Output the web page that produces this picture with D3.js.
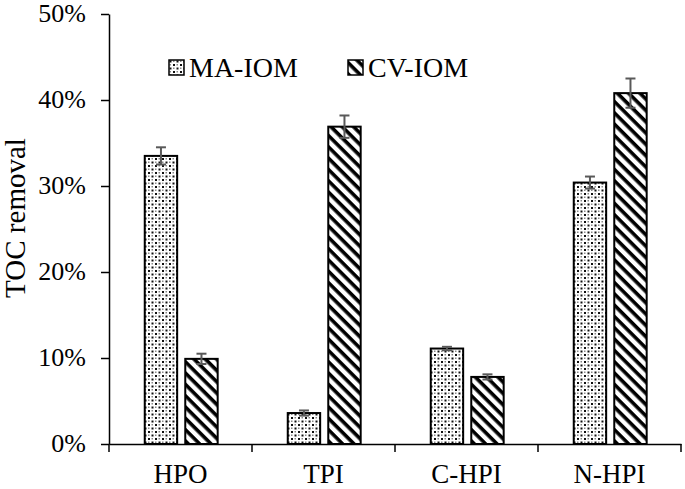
<!DOCTYPE html>
<html>
<head>
<meta charset="utf-8">
<script src="https://cdn.jsdelivr.net/npm/d3@7"></script>
<style>
  body { margin: 0; background: #fff; }
  text { font-family: "Liberation Serif", "Times New Roman", serif; fill: #000; }
</style>
</head>
<body>
<script>
// ---------------- DATA ----------------
var categories = ['HPO', 'TPI', 'C-HPI', 'N-HPI']
var series = ['MA-IOM', 'CV-IOM']
var maValues = [0.335, 0.036, 0.111, 0.304]
var cvValues = [0.099, 0.369, 0.078, 0.408]
var maErrors = [0.010, 0.003, 0.002, 0.007]
var cvErrors = [0.006, 0.013, 0.003, 0.017]
var yTicks = [0, 0.1, 0.2, 0.3, 0.4, 0.5]

var width = 685
var height = 489
var margin = {top: 14, right: 4, bottom: 45, left: 109}

var svg = d3.select('body')
  .append('svg')
  .attr('width', width)
  .attr('height', height)

// ---------------- PATTERNS ----------------
var defs = svg.append('defs')

var dots = defs.append('pattern')
  .attr('id', 'dots')
  .attr('patternUnits', 'userSpaceOnUse')
  .attr('width', 7)
  .attr('height', 7)
dots.append('rect').attr('width', 7).attr('height', 7).attr('fill', '#fff')
dots.append('rect').attr('x', 0.5).attr('y', 0.5).attr('width', 2).attr('height', 2).attr('fill', '#111')
dots.append('rect').attr('x', 4).attr('y', 4).attr('width', 2).attr('height', 2).attr('fill', '#111')
dots.append('rect').attr('x', 4).attr('y', 0.5).attr('width', 1.5).attr('height', 1.5).attr('fill', '#888')
dots.append('rect').attr('x', 0.5).attr('y', 4).attr('width', 1.5).attr('height', 1.5).attr('fill', '#888')

var stripes = defs.append('pattern')
  .attr('id', 'stripes')
  .attr('patternUnits', 'userSpaceOnUse')
  .attr('width', 8)
  .attr('height', 8)
  .attr('patternTransform', 'rotate(45)')
stripes.append('rect').attr('width', 8).attr('height', 8).attr('fill', '#fff')
stripes.append('rect').attr('width', 8).attr('height', 3.6).attr('fill', '#000')

var fills = {'MA-IOM': 'url(#dots)', 'CV-IOM': 'url(#stripes)'}

// ---------------- SCALES ----------------
var x = d3.scaleBand()
  .domain(categories)
  .range([margin.left, width - margin.right])

var x1 = d3.scaleBand()
  .domain(series)
  .range([x.bandwidth() * 0.25, x.bandwidth() * 0.76])
  .paddingInner(0.2)

var y = d3.scaleLinear()
  .domain([0, 0.5])
  .range([height - margin.bottom, margin.top])

var rows = categories.map(function(c, i) {
  return [
    {cat: c, s: 'MA-IOM', v: maValues[i], e: maErrors[i]},
    {cat: c, s: 'CV-IOM', v: cvValues[i], e: cvErrors[i]}
  ]
})

// ---------------- BARS ----------------
var groups = svg.selectAll('g.cat')
  .data(rows)
  .enter()
  .append('g')
  .attr('class', 'cat')
  .attr('transform', function(d) { return 'translate(' + x(d[0].cat) + ',0)' })

groups.selectAll('rect')
  .data(function(d) { return d })
  .enter()
  .append('rect')
  .attr('x', function(d) { return x1(d.s) })
  .attr('y', function(d) { return y(d.v) })
  .attr('width', x1.bandwidth())
  .attr('height', function(d) { return y(0) - y(d.v) })
  .attr('fill', function(d) { return fills[d.s] })
  .attr('stroke', '#000')
  .attr('stroke-width', 2)

// error bars
var err = groups.selectAll('g.err')
  .data(function(d) { return d })
  .enter()
  .append('g')
  .attr('class', 'err')
  .attr('stroke', '#595959')
  .attr('stroke-width', 2)

err.append('line')
  .attr('x1', function(d) { return x1(d.s) + x1.bandwidth() / 2 })
  .attr('x2', function(d) { return x1(d.s) + x1.bandwidth() / 2 })
  .attr('y1', function(d) { return y(d.v - d.e) })
  .attr('y2', function(d) { return y(d.v + d.e) })
err.append('line')
  .attr('x1', function(d) { return x1(d.s) + x1.bandwidth() / 2 - 5 })
  .attr('x2', function(d) { return x1(d.s) + x1.bandwidth() / 2 + 5 })
  .attr('y1', function(d) { return y(d.v + d.e) })
  .attr('y2', function(d) { return y(d.v + d.e) })
err.append('line')
  .attr('x1', function(d) { return x1(d.s) + x1.bandwidth() / 2 - 5 })
  .attr('x2', function(d) { return x1(d.s) + x1.bandwidth() / 2 + 5 })
  .attr('y1', function(d) { return y(d.v - d.e) })
  .attr('y2', function(d) { return y(d.v - d.e) })

// ---------------- AXES ----------------
var yAxis = svg.append('g')
  .attr('transform', 'translate(' + margin.left + ',0)')
  .call(d3.axisLeft(y).tickValues(yTicks).tickFormat(d3.format('.0%')).tickSize(8).tickSizeOuter(0).tickPadding(15))
yAxis.select('.domain').attr('stroke-width', 1.5)
yAxis.selectAll('.tick line').attr('stroke-width', 1.5)
yAxis.selectAll('text').style('font-size', '26px').attr('dy', '0.3em')

var xAxis = svg.append('g')
  .attr('transform', 'translate(0,' + y(0) + ')')
  .call(d3.axisBottom(x).tickSize(0).tickSizeOuter(0))
xAxis.select('.domain').attr('stroke-width', 1.5)
xAxis.selectAll('text').style('font-size', '27px').attr('y', 39).attr('dy', 0)

// boundary ticks between categories
var bounds = categories.map(function(c) { return x(c) }).concat([x.range()[1]])
xAxis.selectAll('line.bound')
  .data(bounds)
  .enter()
  .append('line')
  .attr('class', 'bound')
  .attr('x1', function(d) { return d })
  .attr('x2', function(d) { return d })
  .attr('y1', 0)
  .attr('y2', 8)
  .attr('stroke', '#000')
  .attr('stroke-width', 1.5)

svg.append('text')
  .attr('transform', 'translate(25,' + (y(0.25) - 11) + ') rotate(-90)')
  .attr('text-anchor', 'middle')
  .style('font-size', '29px')
  .text('TOC removal')

// ---------------- LEGEND ----------------
var legendX = [169, 348]
var legend = svg.selectAll('g.legend')
  .data(series)
  .enter()
  .append('g')
  .attr('class', 'legend')
  .attr('transform', function(d, i) { return 'translate(' + legendX[i] + ',60)' })

legend.append('rect')
  .attr('width', 15)
  .attr('height', 15)
  .attr('fill', function(d) { return fills[d] })
  .attr('stroke', '#000')
  .attr('stroke-width', 1.5)

legend.append('text')
  .attr('x', 20)
  .attr('y', 17)
  .style('font-size', '28px')
  .text(function(d) { return d })
</script>
</body>
</html>
